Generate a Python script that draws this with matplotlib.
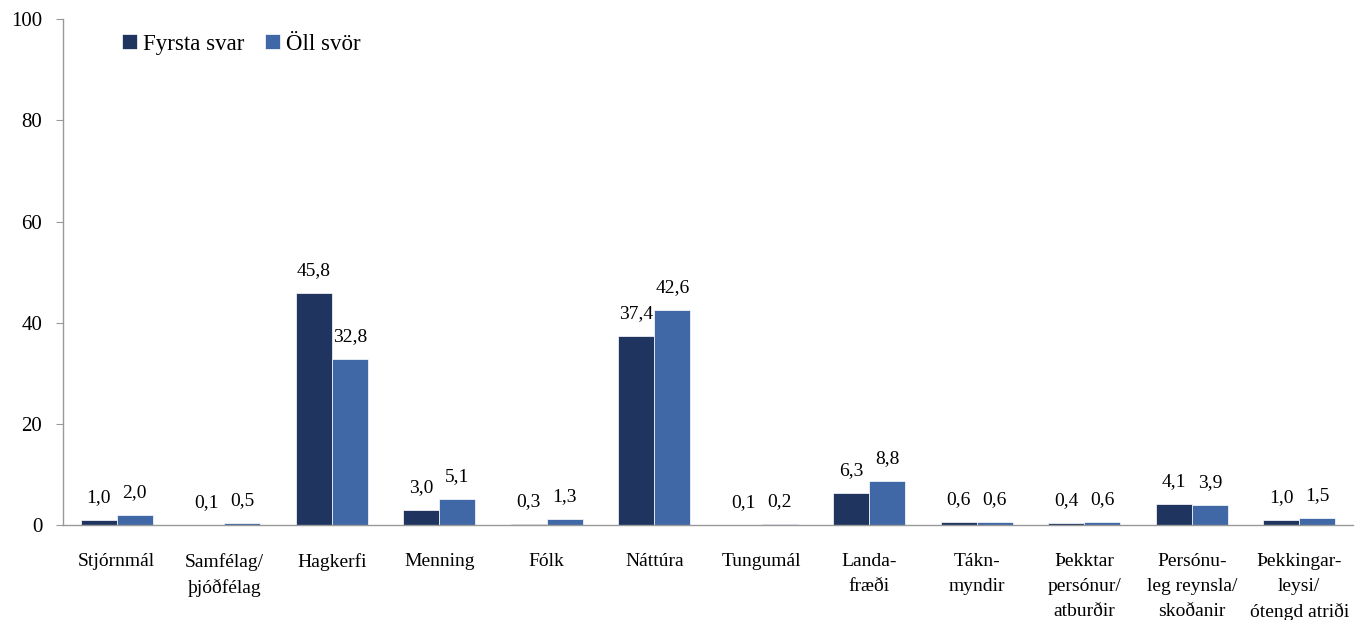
import numpy as np
import matplotlib
matplotlib.use("Agg")
import matplotlib.pyplot as plt

plt.rcParams['font.family'] = ['Liberation Serif', 'DejaVu Serif']

categories = [
    "Stjórnmál", "Samfélag/\nþjóðfélag", "Hagkerfi", "Menning", "Fólk",
    "Náttúra", "Tungumál", "Landa-\nfræði", "Tákn-\nmyndir",
    "Þekktar\npersónur/\natburðir", "Persónu-\nleg reynsla/\nskoðanir",
    "Þekkingar-\nleysi/\nótengd atriði",
]
fyrsta_svar = [1.0, 0.1, 45.8, 3.0, 0.3, 37.4, 0.1, 6.3, 0.6, 0.4, 4.1, 1.0]
oll_svor = [2.0, 0.5, 32.8, 5.1, 1.3, 42.6, 0.2, 8.8, 0.6, 0.6, 3.9, 1.5]

c_dark = "#1f3560"
c_blue = "#4068a6"

fig = plt.figure(figsize=(13.65, 6.2), dpi=100)
ax = fig.add_axes([0.0462, 0.153, 0.945, 0.816])

x = np.arange(len(categories))
w = 0.335
b1 = ax.bar(x - w / 2, fyrsta_svar, w, color=c_dark, label="Fyrsta svar",
            edgecolor="white", linewidth=0.5)
b2 = ax.bar(x + w / 2, oll_svor, w, color=c_blue, label="Öll svör",
            edgecolor="white", linewidth=0.5)

def fmt(v):
    return f"{v:.1f}".replace(".", ",")

for bars, vals in ((b1, fyrsta_svar), (b2, oll_svor)):
    for rect, v in zip(bars, vals):
        ax.annotate(fmt(v), (rect.get_x() + rect.get_width() / 2, v),
                    xytext=(0, 10), textcoords="offset points",
                    ha="center", va="bottom", fontsize=14)

ax.set_xlim(-0.5, len(categories) - 0.5)
ax.set_ylim(0, 100)
ax.set_yticks([0, 20, 40, 60, 80, 100])
ax.set_xticks(x)
ax.set_xticklabels(categories, fontsize=14, linespacing=1.6, va="top")
ax.tick_params(axis="x", length=0, pad=20)
ax.tick_params(axis="y", labelsize=15, length=5, color="#999999", pad=10)

for s in ("top", "right"):
    ax.spines[s].set_visible(False)
for s in ("left", "bottom"):
    ax.spines[s].set_color("#999999")
    ax.spines[s].set_linewidth(1.0)

ax.legend(loc="upper left", bbox_to_anchor=(0.030, 1.012), ncol=2, frameon=False,
          fontsize=16.5, handlelength=0.65, handleheight=0.65, handletextpad=0.25,
          columnspacing=0.9)

fig.savefig("out.png", dpi=100)
